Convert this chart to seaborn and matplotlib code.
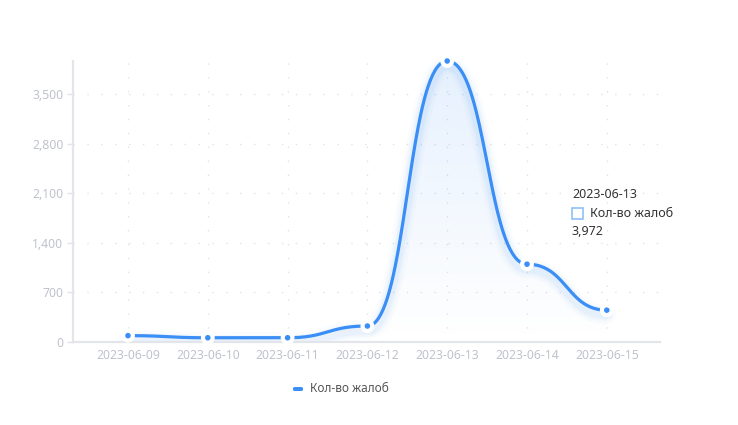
import numpy as np
import pandas as pd
import matplotlib
matplotlib.use("Agg")
import matplotlib.pyplot as plt
import seaborn as sns
from matplotlib.patches import Rectangle, FancyBboxPatch, Polygon

# ---- data ----
dates = ["2023-06-09", "2023-06-10", "2023-06-11", "2023-06-12",
         "2023-06-13", "2023-06-14", "2023-06-15"]
complaints = [90, 60, 60, 226, 3972, 1100, 450]
series_name = "Кол-во жалоб"
y_ticks = [0, 700, 1400, 2100, 2800, 3500]
tooltip_date = "2023-06-13"
tooltip_value = "3,972"

sns.set_theme(style="white")
plt.rcParams['font.family'] = ['Noto Sans', 'DejaVu Sans']

W, H = 738, 425
fig = plt.figure(figsize=(W / 100, H / 100), dpi=100)
left, right, top, bottom = 73, 660, 61, 342
ax = fig.add_axes([left / W, 1 - bottom / H, (right - left) / W, (bottom - top) / H])

xs = np.arange(len(dates))
ys = np.array(complaints, dtype=float)
px_x = 79.8


def bump_x(xd, yd, n=80):
    """Smooth curve with horizontal tangents at each point (bump-x style)."""
    ox, oy = [xd[0]], [yd[0]]
    t = np.linspace(0, 1, n)[1:]
    for i in range(1, len(xd)):
        x0, y0, x1, y1 = xd[i - 1], yd[i - 1], xd[i], yd[i]
        xm = (x0 + x1) / 2
        bx = (1 - t) ** 3 * x0 + 3 * (1 - t) ** 2 * t * xm + 3 * (1 - t) * t ** 2 * xm + t ** 3 * x1
        by = (1 - t) ** 3 * y0 + 3 * (1 - t) ** 2 * t * y0 + 3 * (1 - t) * t ** 2 * y1 + t ** 3 * y1
        ox.extend(bx); oy.extend(by)
    return np.array(ox), np.array(oy)


sx, sy = bump_x(xs.astype(float), ys)
curve = pd.DataFrame({"x": sx, "y": sy})
pts = pd.DataFrame({"x": xs, "y": ys})

ax.set_xlim((left - 128) / px_x, (right - 128) / px_x)
ax.set_ylim(0, 3972)

# grid (dotted)
for yt in y_ticks[1:]:
    ax.axhline(yt, color="#e1e3e8", lw=1.0, ls=(0, (1, 9)), zorder=0)
for xv in xs:
    ax.axvline(xv, color="#e1e3e8", lw=1.0, ls=(0, (1, 9)), zorder=0)

# gradient fill under curve
poly_xy = np.column_stack([np.r_[sx, sx[-1], sx[0]], np.r_[sy, 0, 0]])
poly = Polygon(poly_xy, closed=True, facecolor="none", edgecolor="none", transform=ax.transData)
ax.add_patch(poly)
grad = np.linspace(0.13, 0.0, 256)[:, None]
rgba = np.zeros((256, 1, 4))
rgba[..., 0] = 58 / 255; rgba[..., 1] = 142 / 255; rgba[..., 2] = 246 / 255
rgba[..., 3] = grad
im = ax.imshow(rgba, extent=[sx[0], sx[-1], 0, 3972], aspect="auto", origin="upper", zorder=1,
               interpolation="bilinear")
im.set_clip_path(poly)

# glow under the line
for lw, a in [(14, 0.025), (10, 0.035), (7, 0.05)]:
    ax.plot(sx, sy - 60, color="#3a8ef6", lw=lw, alpha=a, solid_capstyle="round", zorder=2)

sns.lineplot(data=curve, x="x", y="y", ax=ax, color="#3a8ef6", lw=2.3, sort=False,
             estimator=None, zorder=3)
sns.scatterplot(data=pts, x="x", y="y", ax=ax, color="white", s=100, edgecolor="none", zorder=4,
                clip_on=False)
sns.scatterplot(data=pts, x="x", y="y", ax=ax, color="#3a8ef6", s=16, edgecolor="none", zorder=5,
                clip_on=False)

ax.set_xlabel(""); ax.set_ylabel("")
ax.set_xticks(xs)
ax.set_xticklabels(dates, color="#c0c3cc", fontsize=8.8)
ax.set_yticks(y_ticks)
ax.set_yticklabels([f"{v:,}" for v in y_ticks], color="#c0c3cc", fontsize=8.8)
ax.tick_params(axis="x", length=0, pad=5)
ax.tick_params(axis="y", length=4, width=1, color="#e1e3e8", pad=3, left=True)
for s in ["top", "right"]:
    ax.spines[s].set_visible(False)
for s in ["left", "bottom"]:
    ax.spines[s].set_color("#e3e5ea")
    ax.spines[s].set_linewidth(1.6)
ax.patch.set_alpha(0)

# tooltip
fig.text(572 / W, 1 - 194 / H, tooltip_date, fontsize=9, color="#333333", va="center", ha="left")
fig.patches.append(Rectangle((572 / W, 1 - 219 / H), 11 / W, 11 / H, transform=fig.transFigure,
                             facecolor="white", edgecolor="#8fc0fa", lw=1.2))
fig.text(590 / W, 1 - 213 / H, series_name, fontsize=9, color="#333333", va="center", ha="left")
fig.text(572 / W, 1 - 231 / H, tooltip_value, fontsize=9, color="#333333", va="center", ha="left")

# legend
fig.patches.append(FancyBboxPatch((293 / W, 1 - 391 / H), 10 / W, 4 / H, transform=fig.transFigure,
                                  boxstyle="round,pad=0,rounding_size=0.003",
                                  facecolor="#3a8ef6", edgecolor="none"))
fig.text(310 / W, 1 - 389 / H, series_name, fontsize=8.5, color="#555555", va="center", ha="left")

fig.savefig("out.png", dpi=100)
